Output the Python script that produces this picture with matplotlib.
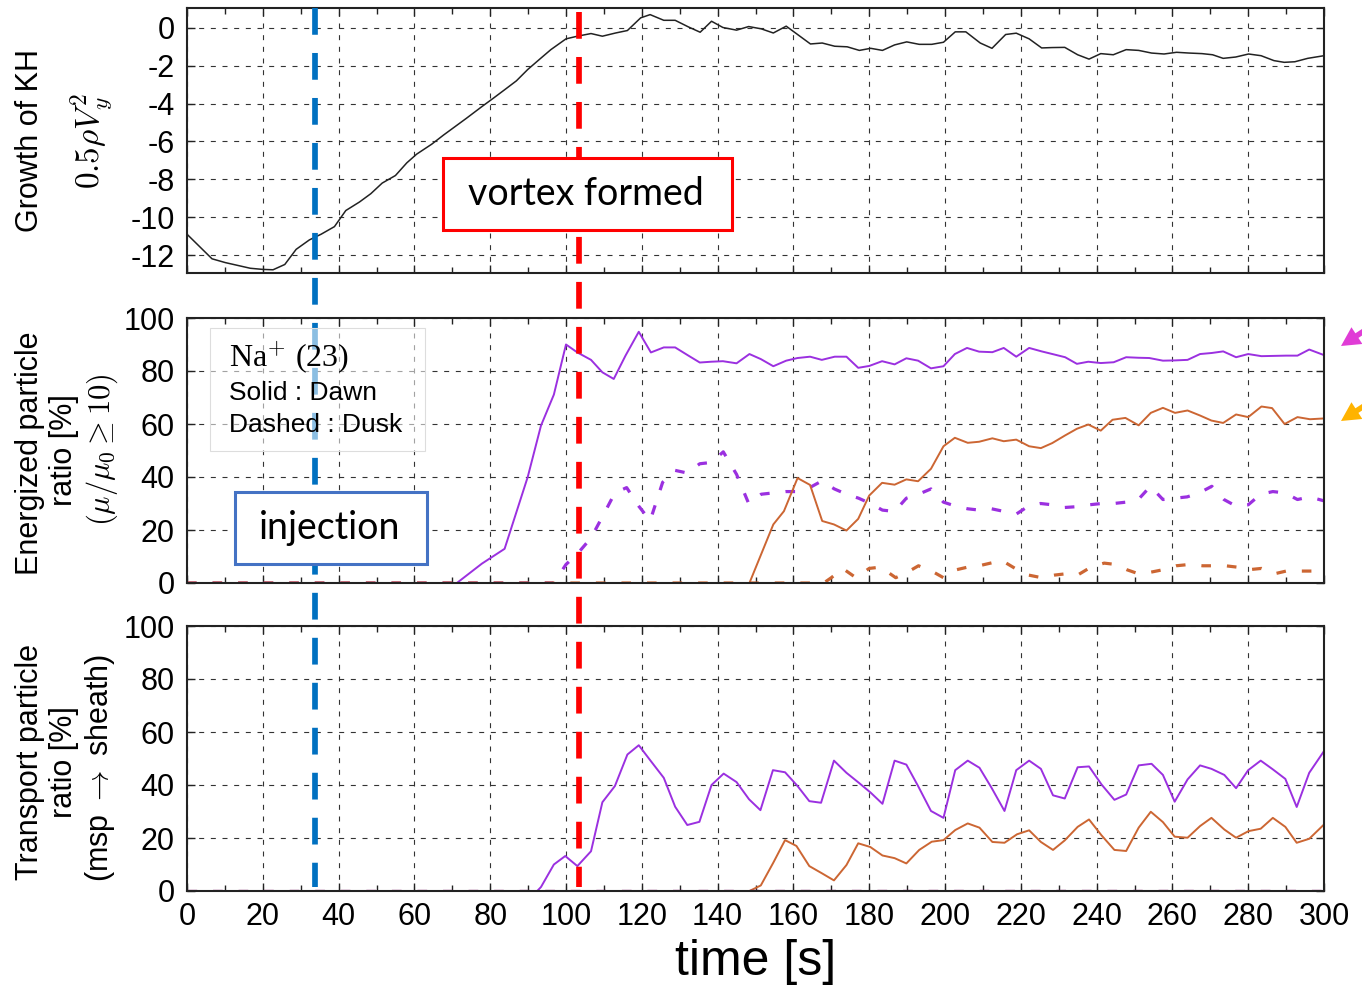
import matplotlib
matplotlib.use("Agg")
import matplotlib.pyplot as plt
from matplotlib.patches import Rectangle, FancyArrow
from matplotlib.ticker import MultipleLocator
from matplotlib.transforms import Affine2D

plt.rcParams['font.family'] = ['Liberation Sans', 'DejaVu Sans']
plt.rcParams['mathtext.fontset'] = 'cm'
plt.rcParams['axes.unicode_minus'] = False

# --- KH growth (0.5 rho Vy^2) ---
t_kh = [0, 6.6, 10.1, 16.7, 20, 22.7, 25.8, 28.8, 32.3, 35.4, 38.9, 41.9, 45.5, 48.5, 51.5,
        55, 58, 60.6, 64.6, 67.7, 70.7, 73.7, 77.8, 80.8, 83.8, 86.9, 89.9, 92.9, 96, 100,
        103, 106.6, 109.6, 113.1, 116.2, 119.7, 122.2, 125.8, 128.8, 132.3, 135.4, 138.4,
        141.4, 145, 148.2, 151.5, 154.7, 158.1, 161.1, 164.5, 167.6, 170.9, 174.2, 177.4,
        180.4, 183.5, 186.7, 189.9, 193.2, 196.5, 199.6, 202.7, 205.5, 209.3, 212.4, 216,
        218.8, 222.2, 225.5, 228.3, 231.6, 235, 238, 241.1, 244.4, 247.8, 251.1, 254.5,
        257.8, 261.1, 264.4, 267.8, 270.6, 273.4, 276.7, 280.1, 283.4, 286.8, 289.5, 292.3,
        295.7, 300]
kh = [-10.9, -12.2, -12.4, -12.7, -12.76, -12.78, -12.5, -11.7, -11.2, -10.9, -10.5, -9.65,
      -9.2, -8.76, -8.2, -7.8, -7.13, -6.67, -6.14, -5.66, -5.22, -4.78, -4.16, -3.72, -3.27,
      -2.8, -2.2, -1.68, -1.15, -0.58, -0.44, -0.3, -0.44, -0.27, -0.14, 0.53, 0.7, 0.4, 0.4,
      0.05, -0.23, 0.35, 0.02, -0.12, 0.07, -0.05, -0.27, 0.09, -0.35, -0.85, -0.8, -0.97,
      -1.0, -1.19, -1.08, -1.19, -0.9, -0.74, -0.87, -0.87, -0.76, -0.21, -0.21, -0.8, -1.08,
      -0.35, -0.28, -0.58, -1.06, -1.04, -1.03, -1.42, -1.65, -1.36, -1.42, -1.15, -1.19,
      -1.33, -1.38, -1.29, -1.33, -1.36, -1.42, -1.61, -1.54, -1.38, -1.47, -1.73, -1.82,
      -1.79, -1.61, -1.47]

# --- energized particle ratio [%] ---
t_en_dawn_na = [0, 71.2, 77.8, 83.8, 89.9, 93.4, 96.8, 100, 103, 106.6, 109.6, 112.6, 115.7,
                119.2, 122.4, 125.8, 128.8, 132.3, 135.3, 138.3, 141.4, 145, 148.4, 151.4,
                154.7, 158.1, 161.1, 164.4, 167.5, 170.9, 174, 177.1, 180, 183.4, 186.7,
                189.8, 192.9, 196.3, 199.6, 202.6, 205.8, 209, 212.5, 215.5, 218.8, 222.2,
                225.5, 228.9, 231.7, 234.8, 237.8, 241.1, 244.5, 247.8, 251, 253.9, 257.5,
                260.7, 264, 267.3, 270.4, 273.4, 276.8, 280, 283.5, 286.7, 290, 293, 296.1, 300]
en_dawn_na = [0, 0, 7.3, 12.9, 40, 59.4, 71.1, 90, 87, 84.2, 79.5, 77, 85.8, 94.8, 87, 88.9,
              88.9, 85.8, 83.2, 83.5, 83.7, 82.9, 86.4, 84.5, 81.8, 83.9, 84.9, 85.4, 84.2,
              85.4, 85.4, 81.2, 81.9, 83.7, 82.5, 84.8, 83.9, 81, 81.8, 86.4, 88.7, 87.3, 87.1,
              88.7, 85.4, 88.7, 87.4, 86.2, 85.2, 82.7, 83.5, 83, 83.3, 85.2, 85.0, 84.9, 83.9,
              84.0, 84.2, 86.4, 86.8, 87.4, 85.2, 86.4, 85.6, 85.7, 85.8, 85.8, 88.1, 86]

t_en_dusk_na = [0, 96.8, 100, 103, 106.6, 109.6, 112.9, 116, 119.2, 122.2, 125.5, 128.8, 132,
                135.3, 138.4, 141.5, 145, 148.2, 151.5, 154.7, 158, 161.1, 164.3, 167.5, 170.8,
                174, 177.2, 180.3, 183.5, 186.7, 189.8, 193, 196.3, 199.6, 202.8, 206, 209.1,
                212.3, 215.6, 218.8, 222, 225.2, 228.4, 231.6, 234.8, 238, 241.3, 244.5, 247.7,
                251, 254.2, 257.5, 260.7, 263.9, 267.1, 270.4, 273.6, 276.8, 280, 283.3, 286.5,
                289.7, 293, 296.2, 300]
en_dusk_na = [0, 0, 7, 11, 17, 25, 34, 36, 29, 23.5, 38, 42.5, 41.5, 45, 45.5, 49.5, 41, 30,
              33.5, 34, 34.5, 34.5, 36, 38.5, 35.5, 33.5, 32, 30, 27.5, 27, 32, 33.5, 35.5,
              30.5, 29, 28, 27.5, 28, 27, 26, 29, 30, 29.5, 28.5, 28.8, 29.5, 30, 30, 30.5,
              31.5, 36.5, 31.5, 32, 32.5, 34, 36.5, 31.5, 29, 29.5, 33.5, 34.5, 34, 31.5, 32.5, 31]

t_en_dawn_o = [0, 148.4, 154.7, 157.5, 161.1, 164.4, 167.6, 170.7, 174, 177.1, 180, 183.4,
               186.7, 189.8, 192.9, 196.3, 199.6, 202.6, 206, 209, 212.5, 215.5, 218.8, 222.2,
               225.3, 228.3, 231.7, 234.8, 237.8, 241.1, 244.2, 247.6, 251.1, 254.3, 257.5,
               260.7, 264, 267.3, 270.3, 273.4, 276.8, 280, 283.5, 286.3, 289.6, 293, 296.3, 300]
en_dawn_o = [0, 0, 22.1, 27.1, 39.6, 37, 23.4, 22.1, 19.8, 24.2, 33, 37.8, 37.1, 39.1, 38.4,
             43.1, 51.6, 54.8, 52.9, 53.3, 54.6, 53.5, 54.1, 51.6, 50.9, 52.8, 55.7, 58.2, 59.8,
             57.5, 61.6, 62.3, 59.5, 64.2, 66.1, 64.2, 65.1, 63.2, 61.3, 60.4, 63.6, 62.6, 66.6,
             66, 60, 62.6, 61.8, 62.1]

t_en_dusk_o = [0, 168, 170, 173, 176.5, 180, 183, 187, 190, 193, 196.5, 199.6, 203, 206, 209,
               212, 215, 218.5, 222, 225.5, 229, 232, 235, 238.5, 242, 245, 248, 251, 254,
               257.5, 261, 264.5, 268, 271, 274, 277, 280, 283.5, 287, 290, 293, 296.5, 300]
en_dusk_o = [0, 0, 2, 5.5, 2, 5.5, 6, 2, 4, 6.5, 4.5, 2, 5, 6, 6.5, 7.5, 8.5, 5.5, 3, 2, 3,
             3.5, 3, 6, 7.5, 7, 5, 3.5, 4, 5, 6.5, 7, 6.5, 6.5, 6.5, 6, 5, 5.5, 3.5, 4.5, 4.5,
             4.5, 4.5]

# --- transport particle ratio [%] (msp -> sheath) ---
t_tr_dawn_na = [0, 92.4, 93.4, 96.8, 99.8, 103, 106.6, 109.6, 112.9, 116.2, 119.2, 122.4,
                125.8, 128.8, 132, 135.2, 138.4, 141.6, 145, 148.3, 151.3, 154.6, 157.8, 161.1,
                164.2, 167.3, 170.7, 174, 177.3, 180.4, 183.5, 186.7, 189.8, 192.9, 196.3,
                199.6, 202.7, 206, 209.1, 212.3, 215.7, 218.8, 222.2, 225.3, 228.5, 231.6, 235,
                238, 241.3, 244.7, 247.8, 251.1, 254.5, 257.5, 260.6, 264, 267.3, 270.3, 273.7,
                276.8, 280, 283.3, 286.5, 289.8, 292.8, 296.1, 300]
tr_dawn_na = [0, 0, 1.5, 10, 13.2, 9.4, 15, 33.5, 39.6, 51.5, 55, 49, 42.7, 31.8, 24.9, 26.1,
              40, 44.3, 41.1, 34.6, 30.5, 45.6, 44.8, 39.6, 33.9, 33.3, 49.2, 44.6, 40.8, 37.1,
              32.9, 49.2, 47.7, 39.6, 30.2, 27.6, 45.6, 49.2, 46.5, 38.9, 30.2, 45.6, 49.2,
              46.1, 36.1, 34.9, 46.7, 47, 40.2, 34.4, 36.4, 47.4, 48, 43.8, 33.7, 42.1, 47.4,
              46.1, 43.8, 38.8, 45.6, 49.2, 45.9, 42.3, 31.7, 44.6, 52.8]

t_tr_dawn_o = [0, 148.4, 151.4, 154.7, 157.8, 160.8, 164.2, 167.5, 170.7, 174, 177.1, 180.3,
               183.5, 186.7, 189.8, 193.2, 196.5, 199.6, 202.7, 206, 209.1, 212.5, 215.7, 219,
               222.2, 225.3, 228.5, 231.6, 235, 238, 241.3, 244.7, 247.8, 251.1, 254.3, 257.5,
               260.6, 264, 267.3, 270.3, 273.7, 276.8, 280.1, 283.3, 286.5, 289.8, 292.8,
               296.1, 300]
tr_dawn_o = [0, 0, 2.1, 10.7, 19.2, 17, 9.4, 6.7, 4, 9.8, 18, 16.6, 13.4, 12.4, 10.4, 15.5,
             18.6, 19.2, 23, 25.5, 23.9, 18.5, 18.2, 21.4, 22.9, 18.5, 15.5, 19.1, 24.2, 27, 21,
             15.5, 15.1, 23.9, 29.9, 26, 20.5, 20.1, 24.5, 27.6, 23.2, 20.1, 22.6, 23.5, 27.6,
             24.2, 18.2, 19.7, 25.1]

t_tr_dusk = [0, 300]
tr_dusk_na = [0, 0]
tr_dusk_o = [0, 0]

t_injection = 33.8
t_vortex = 103.4

PURPLE = '#9b30e0'
ORANGE = '#cc6633'
W, H = 1362, 989


def fx(x, y):
    return x / W, 1 - y / H


fig = plt.figure(figsize=(W / 100, H / 100), dpi=100)
left, width, height = 187 / W, (1324 - 187) / W, 265 / H
ax_kh = fig.add_axes([left, 1 - 273 / H, width, height])
ax_en = fig.add_axes([left, 1 - 583 / H, width, height], sharex=ax_kh)
ax_tr = fig.add_axes([left, 1 - 891 / H, width, height], sharex=ax_kh)

ax_kh.plot(t_kh, kh, color='#222222', lw=1.1)

ax_en.plot(t_en_dusk_na, en_dusk_na, color=PURPLE, lw=2.3, ls=(0, (3, 5)))
ax_en.plot(t_en_dusk_o, en_dusk_o, color=ORANGE, lw=2.3, ls=(0, (3, 5)))
ax_en.plot(t_en_dawn_na, en_dawn_na, color=PURPLE, lw=1.4)
ax_en.plot(t_en_dawn_o, en_dawn_o, color=ORANGE, lw=1.4)

ax_tr.plot(t_tr_dawn_na, tr_dawn_na, color=PURPLE, lw=1.4)
ax_tr.plot(t_tr_dawn_o, tr_dawn_o, color=ORANGE, lw=1.4)
ax_tr.plot(t_tr_dusk, tr_dusk_na, color=PURPLE, lw=2.3, ls=(0, (3, 5)))
ax_tr.plot(t_tr_dusk, tr_dusk_o, color='#8b2a2a', lw=2.3, ls=(0, (3, 5)))

ax_kh.set_ylim(-12.95, 1.05)
ax_kh.yaxis.set_major_locator(MultipleLocator(2))
for ax in (ax_en, ax_tr):
    ax.set_ylim(0, 100)
    ax.yaxis.set_major_locator(MultipleLocator(20))

for ax in (ax_kh, ax_en, ax_tr):
    ax.set_xlim(0, 300)
    ax.xaxis.set_major_locator(MultipleLocator(20))
    ax.xaxis.set_minor_locator(MultipleLocator(10))
    ax.grid(True, which='major', color='#333333', lw=0.8, ls=(0, (4.5, 6)))
    ax.tick_params(which='both', direction='in', top=True, right=True, labelsize=22,
                   width=1.0, color='#222222')
    ax.tick_params(which='major', length=6, pad=9)
    ax.tick_params(which='minor', length=4)
    for s in ax.spines.values():
        s.set_linewidth(1.5)
        s.set_color('#222222')
ax_kh.tick_params(labelbottom=False)
ax_en.tick_params(labelbottom=False)
ax_tr.tick_params(axis='x', pad=8)
ax_tr.set_xlabel('time [s]', fontsize=36, labelpad=5)

# y labels
ylab = dict(rotation=90, ha='center', va='center', fontsize=22)
fig.text(*fx(30, 140), 'Growth of KH', **ylab)
fig.text(*fx(92, 141), r'$0.5\rho V_y^2$', rotation=90, ha='center', va='center', fontsize=24)
fig.text(*fx(30, 453), 'Energized particle', **ylab)
fig.text(*fx(64, 450), 'ratio [%]', **ylab)
fig.text(*fx(102, 450), r'$(\mu/\mu_0 \geq 10)$', **ylab)
fig.text(*fx(30, 762), 'Transport particle', **ylab)
fig.text(*fx(64, 762), 'ratio [%]', **ylab)
fig.text(*fx(100, 768), r'(msp $\rightarrow$ sheath)', **ylab)

# injection / vortex markers across all panels
ov = fig.add_axes([left, 1 - 887 / H, width, 879 / H], sharex=ax_kh, zorder=1)
ov.axis('off')
ov.patch.set_alpha(0)
xt = ov.get_xaxis_transform()
ov.plot([t_injection, t_injection], [1, 0], transform=xt, color='#0070c0', lw=4.1,
        ls=(0, (4.7, 3.2)), clip_on=False)
ov.plot([t_vortex, t_vortex], [1 - 4.5 / 879, 0], transform=xt, color='#ff0000', lw=4.1,
        ls=(0, (4.7, 3.2)), clip_on=False)


def box(x0, y0, x1, y1, **kw):
    fig.add_artist(Rectangle(fx(x0, y1), (x1 - x0) / W, (y1 - y0) / H,
                             transform=fig.transFigure, zorder=2, **kw))


box(443, 158, 732, 230, facecolor='white', edgecolor='#ff0000', lw=2.2)
fig.text(*fx(586, 194), 'vortex formed', fontsize=27, family='Lato', ha='center',
         va='center', zorder=3)
box(235, 492, 427, 564, facecolor='white', edgecolor='#4472c4', lw=2.2)
fig.text(*fx(330, 528), 'injection', fontsize=27, family='Lato', ha='center',
         va='center', zorder=3)

# species / line-style key
box(210, 328, 425, 451, facecolor=(1, 1, 1, 0.55), edgecolor='#dddddd', lw=0.8)
fig.text(*fx(229, 358), 'Na$^{+}$ (23)', fontsize=23, family='Liberation Serif',
         ha='left', va='center', zorder=3)
fig.text(*fx(229, 393), 'Solid : Dawn', fontsize=19, ha='left', va='center', zorder=3)
fig.text(*fx(229, 425), 'Dashed : Dusk', fontsize=19, ha='left', va='center', zorder=3)

# pointers at the right edge (pixel coords, y down)
px_tr = Affine2D().scale(1 / W, -1 / H).translate(0, 1) + fig.transFigure
for (x0, y0, x1, y1, c) in [(1390, 314, 1341, 346, '#e03cd6'), (1390, 389, 1341, 421, '#ffb300')]:
    fig.add_artist(FancyArrow(x0, y0, x1 - x0, y1 - y0, width=5.5, head_width=20,
                              head_length=19, length_includes_head=True,
                              transform=px_tr, color=c, lw=0, zorder=3))

fig.savefig('out.png', dpi=100)
